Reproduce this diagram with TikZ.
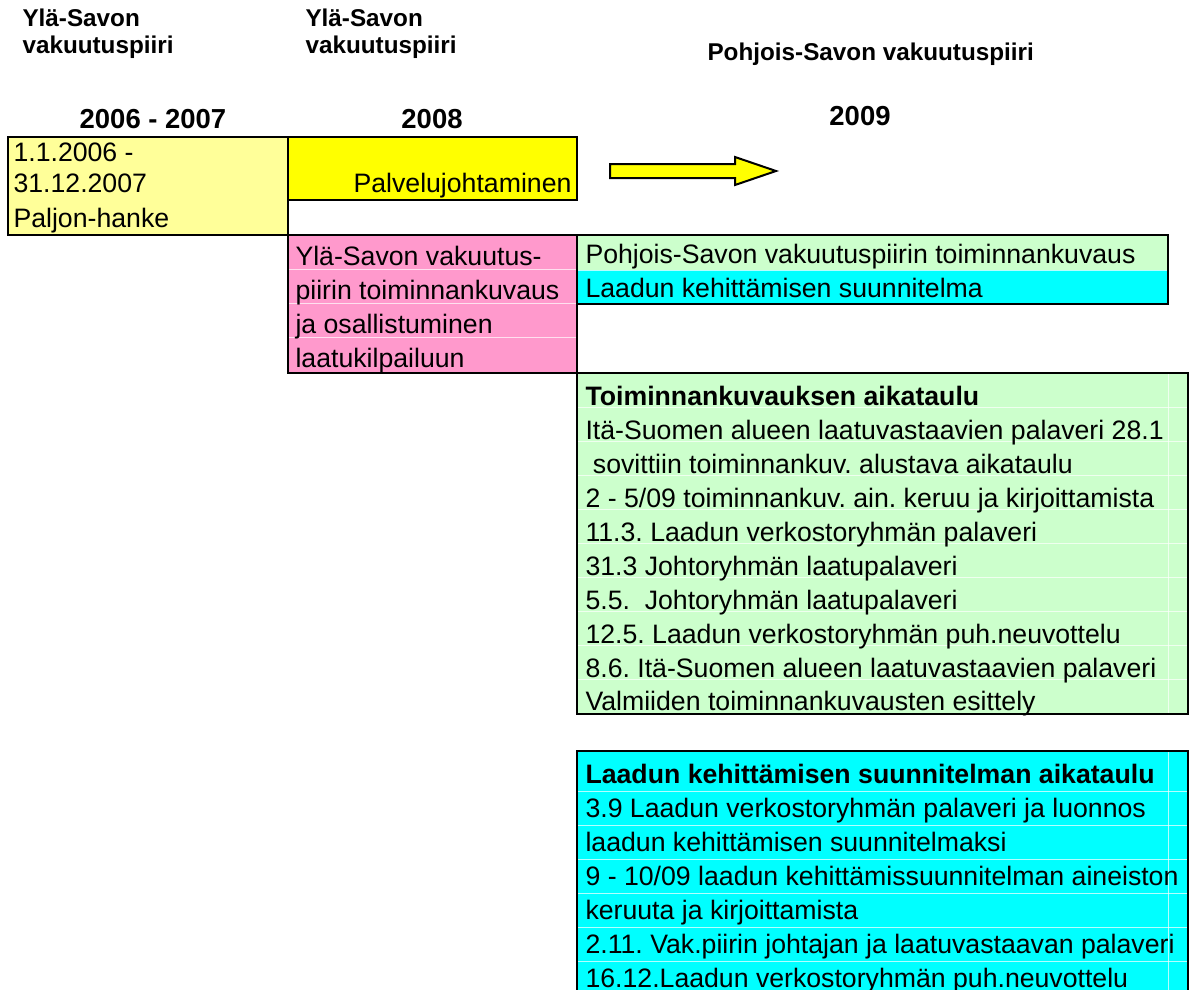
\documentclass[tikz,border=0pt]{standalone}
\usepackage{fontspec}
\setmainfont{Liberation Sans}
\frenchspacing
\definecolor{paleyellow}{HTML}{FFFF99}
\definecolor{brightyellow}{HTML}{FFFF00}
\definecolor{rosepink}{HTML}{FF99CC}
\definecolor{palegreen}{HTML}{CCFFCC}
\definecolor{aqua}{HTML}{00FFFF}
\begin{document}
\begin{tikzpicture}[x=0.375pt,y=-0.375pt,
  cell/.style={draw=black,line width=0.75pt},
  gridline/.style={draw=white,line width=0.35pt,opacity=0.7},
  body/.style={anchor=base west,inner sep=0pt,font=\fontsize{10}{12}\selectfont},
  bodyb/.style={body,font=\fontsize{10}{12}\selectfont\bfseries},
  head/.style={anchor=base west,inner sep=0pt,font=\fontsize{9.1}{11}\selectfont\bfseries},
  year/.style={anchor=base,inner sep=0pt,font=\fontsize{10.3}{12}\selectfont\bfseries}]
\useasboundingbox (0,0) rectangle (1196,989);
\clip (0,0) rectangle (1196,989);

% column headings
\node[head] (h1a) at (22,26) {Ylä-Savon};
\node[head] (h1b) at (22,53) {vakuutuspiiri};
\node[head] (h2a) at (305,26) {Ylä-Savon};
\node[head] (h2b) at (305,53) {vakuutuspiiri};
\node[head] (h3)  at (707,60) {Pohjois-Savon vakuutuspiiri};
\node[year] (y1) at (153,128) {2006 - 2007};
\node[year] (y2) at (432,128) {2008};
\node[year] (y3) at (860,125) {2009};

% 2006-2007 and 2008 cells
\path[cell,fill=paleyellow] (8,137) rectangle (288,235);
\path[cell,fill=brightyellow] (288,137) rectangle (577,200);
\path[cell,fill=rosepink] (288,235) rectangle (577,373);
\foreach \r in {269,303,337} \path[gridline] (289,\r) -- (576,\r);

\node[body] (p1) at (13,161) {1.1.2006 -};
\node[body] (p2) at (13,192) {31.12.2007};
\node[body] (p3) at (13,227) {Paljon-hanke};
\node[body,anchor=base east] (pj) at (572,192) {Palvelujohtaminen};

\node[body] (k1) at (295,265) {Ylä-Savon vakuutus-};
\node[body] (k2) at (295,299) {piirin toiminnankuvaus};
\node[body] (k3) at (295,333) {ja osallistuminen};
\node[body] (k4) at (295,367) {laatukilpailuun};

% block arrow towards 2009
\path[cell,fill=brightyellow] (610,164) -- (735,164) -- (735,157) -- (776,171)
  -- (735,185) -- (735,178) -- (610,178) -- cycle;

% 2009 cells
\path[fill=palegreen] (577,235) rectangle (1168,270);
\path[fill=aqua] (577,270) rectangle (1168,304);
\path[gridline] (578,270) -- (1167,270);
\path[cell] (577,235) rectangle (1168,304);
\node[body] (t1) at (585,263) {Pohjois-Savon vakuutuspiirin toiminnankuvaus};
\node[body] (t2) at (585,297) {Laadun kehittämisen suunnitelma};

\path[cell,fill=palegreen] (577,373) rectangle (1188,714);
\foreach \r in {407,441,475,509,543,577,611,645,679} \path[gridline] (578,\r) -- (1187,\r);
\path[gridline] (1168,374) -- (1168,713);
\node[bodyb] (g0) at (585,405) {Toiminnankuvauksen aikataulu};
\node[body] (g1) at (585,439) {Itä-Suomen alueen laatuvastaavien palaveri 28.1};
\node[body] (g2) at (585,473) {\ sovittiin toiminnankuv. alustava aikataulu};
\node[body] (g3) at (585,507) {2 - 5/09 toiminnankuv. ain. keruu ja kirjoittamista};
\node[body] (g4) at (585,541) {11.3. Laadun verkostoryhmän palaveri};
\node[body] (g5) at (585,575) {31.3 Johtoryhmän laatupalaveri};
\node[body] (g6) at (585,609) {5.5.\ \ Johtoryhmän laatupalaveri};
\node[body] (g7) at (585,643) {12.5. Laadun verkostoryhmän puh.neuvottelu};
\node[body] (g8) at (585,677) {8.6. Itä-Suomen alueen laatuvastaavien palaveri};
\node[body] (g9) at (585,710) {Valmiiden toiminnankuvausten esittely};

\path[cell,fill=aqua] (577,751) rectangle (1188,1000);
\foreach \r in {791,825,859,893,927,961} \path[gridline] (578,\r) -- (1187,\r);
\path[gridline] (1168,752) -- (1168,995);
\node[bodyb] (c0) at (585,783) {Laadun kehittämisen suunnitelman aikataulu};
\node[body] (c1) at (585,817) {3.9 Laadun verkostoryhmän palaveri ja luonnos};
\node[body] (c2) at (585,851) {laadun kehittämisen suunnitelmaksi};
\node[body] (c3) at (585,885) {9 - 10/09 laadun kehittämissuunnitelman aineiston};
\node[body] (c4) at (585,919) {keruuta ja kirjoittamista};
\node[body] (c5) at (585,953) {2.11. Vak.piirin johtajan ja laatuvastaavan palaveri};
\node[body] (c6) at (585,987) {16.12.Laadun verkostoryhmän puh.neuvottelu};
\end{tikzpicture}
\end{document}
